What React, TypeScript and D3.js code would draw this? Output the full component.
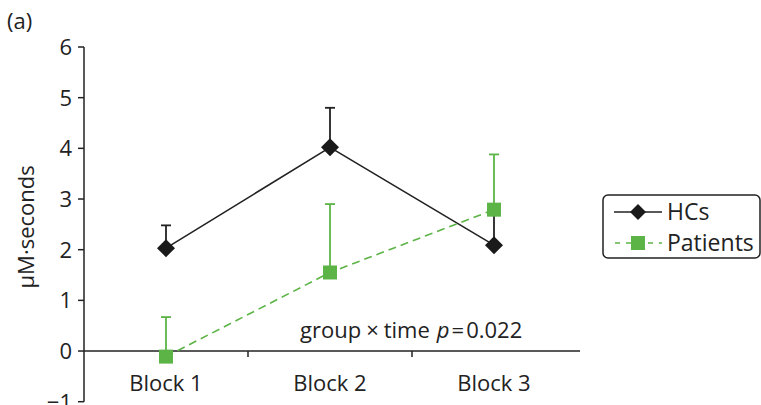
import React from "react";
import * as d3 from "d3";

const categories = ["Block 1", "Block 2", "Block 3"];
const hcValues = [2.03, 4.02, 2.09];
const hcUpper = [2.48, 4.8, 2.9];
const patientValues = [-0.11, 1.55, 2.79];
const patientUpper = [0.67, 2.9, 3.88];
const yTicks = [-1, 0, 1, 2, 3, 4, 5, 6];

const W = 761;
const H = 405;
const FONT = "'Open Sans', 'Noto Sans', sans-serif";
const GREEN = "#5cb447";
const FS = 23;

export default function App() {
  const x = d3.scaleBand<string>().domain(categories).range([84, 576]);
  const y = d3.scaleLinear().domain([-1, 6]).range([401.7, 47]);
  const cx = (c: string) => (x(c) as number) + x.bandwidth() / 2;
  const line = d3
    .line<[number, number]>()
    .x((d) => d[0])
    .y((d) => d[1]);
  const hcPts: [number, number][] = categories.map((c, i) => [cx(c), y(hcValues[i])]);
  const ptPts: [number, number][] = categories.map((c, i) => [cx(c), y(patientValues[i])]);
  const diamond = (px: number, py: number, r: number) =>
    `M${px},${py - r}L${px + r},${py}L${px},${py + r}L${px - r},${py}Z`;

  return (
    <svg width={W} height={H} style={{ position: "absolute", left: 0, top: 0 }} fontFamily={FONT}>
      <rect width={W} height={H} fill="#fff" />
      <text x={7} y={29} fontSize={FS - 1} fill="#222">(a)</text>
      <text
        transform={`translate(34,${y(2.45)}) rotate(-90)`}
        textAnchor="middle"
        fontSize={FS - 1}
        fill="#222"
      >
        μM·seconds
      </text>
      {/* y axis */}
      <line x1={84} x2={84} y1={y(6)} y2={y(-1)} stroke="#222" strokeWidth={1.5} />
      {yTicks.map((t) => (
        <g key={t}>
          <line x1={78} x2={84} y1={y(t)} y2={y(t)} stroke="#222" strokeWidth={1.5} />
          <text x={72} y={y(t)} dy="0.36em" textAnchor="end" fontSize={FS - 1} fill="#222">
            {t < 0 ? "\u2212" + Math.abs(t) : t}
          </text>
        </g>
      ))}
      {/* x axis */}
      <line x1={84} x2={580} y1={y(0)} y2={y(0)} stroke="#222" strokeWidth={1.5} />
      {categories.slice(1).map((c) => (
        <line key={c} x1={x(c)} x2={x(c)} y1={y(0)} y2={y(0) + 6} stroke="#222" strokeWidth={1.5} />
      ))}
      {categories.map((c) => (
        <text key={c} x={cx(c)} y={y(0) + 40} textAnchor="middle" fontSize={FS - 1} fill="#222">
          {c}
        </text>
      ))}
      <text x={300} y={338} fontSize={FS - 1} fill="#222">
        group<tspan dx={5}>×</tspan><tspan dx={5}>time</tspan>
        <tspan fontStyle="italic" dx={7}>p</tspan><tspan dx={2}>=</tspan><tspan dx={2}>0.022</tspan>
      </text>
      {/* HC series */}
      {categories.map((c, i) => (
        <g key={"hce" + c}>
          <line x1={cx(c)} x2={cx(c)} y1={y(hcValues[i])} y2={y(hcUpper[i])} stroke="#222" strokeWidth={1.8} />
          <line x1={cx(c) - 5} x2={cx(c) + 5} y1={y(hcUpper[i])} y2={y(hcUpper[i])} stroke="#222" strokeWidth={1.8} />
        </g>
      ))}
      <path d={line(hcPts) || ""} fill="none" stroke="#222" strokeWidth={1.6} />
      {hcPts.map((p, i) => (
        <path key={"hcm" + i} d={diamond(p[0], p[1], 9)} fill="#1a1a1a" />
      ))}
      {/* Patients series */}
      {categories.map((c, i) => (
        <g key={"pte" + c}>
          <line x1={cx(c)} x2={cx(c)} y1={y(patientValues[i])} y2={y(patientUpper[i])} stroke={GREEN} strokeWidth={1.8} />
          <line x1={cx(c) - 5} x2={cx(c) + 5} y1={y(patientUpper[i])} y2={y(patientUpper[i])} stroke={GREEN} strokeWidth={1.8} />
        </g>
      ))}
      <path d={line(ptPts) || ""} fill="none" stroke={GREEN} strokeWidth={1.6} strokeDasharray="8,5" />
      {ptPts.map((p, i) => (
        <rect key={"ptm" + i} x={p[0] - 7} y={p[1] - 7} width={14} height={14} fill={GREEN} />
      ))}
      {/* legend */}
      <rect x={603} y={195} width={157} height={63} rx={5} fill="#fff" stroke="#222" strokeWidth={1.5} />
      <line x1={614} x2={662} y1={212} y2={212} stroke="#222" strokeWidth={1.6} />
      <path d={diamond(638, 212, 8)} fill="#1a1a1a" />
      <text x={667} y={212} dy="0.36em" fontSize={FS} fill="#222">HCs</text>
      <line x1={614} x2={662} y1={243} y2={243} stroke={GREEN} strokeWidth={1.6} strokeDasharray="5,6" strokeDashoffset={-1} />
      <rect x={631} y={236} width={14} height={14} fill={GREEN} />
      <text x={667} y={243} dy="0.36em" fontSize={FS} fill="#222">Patients</text>
    </svg>
  );
}
